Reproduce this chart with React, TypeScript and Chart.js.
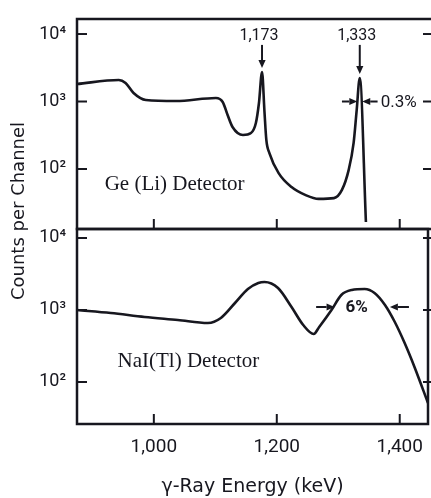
import React, { useEffect, useRef } from 'react';
import { Chart, registerables } from 'chart.js';

Chart.register(...registerables);

// ---------- data ----------
const geEnergy = [875, 943, 954, 967, 987, 1036, 1101, 1112, 1120, 1128, 1145, 1158, 1166, 1171, 1176, 1180, 1183, 1188, 1203, 1224, 1247, 1268, 1293, 1306, 1317, 1325, 1330, 1335, 1345];
const geCounts = [1815, 2085, 1880, 1336, 1053, 1016, 1127, 984, 631, 419, 319, 341, 480, 950, 2735, 700, 270, 172, 87, 54, 41, 36, 37, 49, 97, 243, 748, 2230, 16.4];

const naiEnergy = [875, 930, 985, 1039, 1088, 1109, 1132, 1153, 1170, 1180, 1202, 1224, 1243, 1260, 1269, 1289, 1305, 1322, 1343, 1359, 1376, 1392, 1408, 1424, 1446];
const naiCounts = [1000, 909, 800, 726, 659, 774, 1251, 1958, 2371, 2448, 2022, 1101, 619, 464, 581, 1000, 1616, 1896, 1958, 1722, 1173, 681, 348, 162, 51];

const xTicks = [1000, 1200, 1400];
const xTickLabels = ['1,000', '1,200', '1,400'];
const yTicks = [100, 1000, 10000];
const yTickLabels = ['10\u00B2', '10\u00B3', '10\u2074'];

const peakEnergies = [1176, 1335];
const peakLabels = ['1,173', '1,333'];

const X_MIN = 875;
const X_MAX = 1446;
const TOP_MIN = 12.9;
const TOP_MAX = 16700;
const BOT_MIN = 26.1;
const BOT_MAX = 13335;

// annotation anchors (data units)
const PEAK_ARROW_TAIL = 6900;
const PEAK_LABEL_LEVEL = 9300;
const geFwhmLevel = 1000;
const geFwhmLeft = [1306, 1331];
const geFwhmRight = [1364, 1339];
const geFwhmText = '0.3%';
const geFwhmTextE = 1369;
const naiFwhmLevel = 1100;
const naiFwhmLeft = [1264, 1294];
const naiFwhmRight = [1415, 1384];
const naiFwhmText = '6%';
const naiFwhmTextE = 1330;
const geLabel = 'Ge (Li) Detector';
const geLabelAt = [920, 58];
const naiLabel = 'NaI(Tl) Detector';
const naiLabelAt = [941, 190];

const INK = '#17171f';
const SANS = 'Roboto, "DejaVu Sans", sans-serif';
const TITLE_SANS = '"DejaVu Sans", Roboto, sans-serif';
const SERIF = '"Liberation Serif", "DejaVu Serif", serif';
const W = 431;
const H = 498;

function line(ctx: CanvasRenderingContext2D, x1: number, y1: number, x2: number, y2: number) {
  ctx.beginPath();
  ctx.moveTo(x1, y1);
  ctx.lineTo(x2, y2);
  ctx.stroke();
}

function arrow(ctx: CanvasRenderingContext2D, x1: number, y1: number, x2: number, y2: number) {
  const ang = Math.atan2(y2 - y1, x2 - x1);
  const hl = 8;
  const hw = 3.6;
  const bx = x2 - hl * Math.cos(ang);
  const by = y2 - hl * Math.sin(ang);
  ctx.lineWidth = 2;
  line(ctx, x1, y1, bx, by);
  ctx.beginPath();
  ctx.moveTo(x2, y2);
  ctx.lineTo(bx + hw * Math.sin(ang), by - hw * Math.cos(ang));
  ctx.lineTo(bx - hw * Math.sin(ang), by + hw * Math.cos(ang));
  ctx.closePath();
  ctx.fill();
}

function makeY(min: number, max: number) {
  return {
    type: 'logarithmic' as const,
    position: 'left' as const,
    min,
    max,
    afterFit: (s: any) => {
      s.width = 77;
    },
    afterBuildTicks: (s: any) => {
      s.ticks = yTicks.map((v) => ({ value: v }));
    },
    grid: { display: false },
    border: { display: false },
    ticks: {
      padding: 3,
      color: INK,
      autoSkip: false,
      font: { family: SANS, size: 18 },
      callback: (v: any) => {
        const i = yTicks.indexOf(Number(v));
        return i >= 0 ? yTickLabels[i] : '';
      },
    },
  };
}

function drawTicks(chart: any, ctx: CanvasRenderingContext2D) {
  const a = chart.chartArea;
  const { x, y } = chart.scales;
  ctx.lineWidth = 2;
  yTicks.forEach((v) => {
    const py = y.getPixelForValue(v);
    line(ctx, a.left, py, a.left + 10, py);
    line(ctx, a.right - 5, py, a.right + 3, py);
  });
  xTicks.forEach((v) => {
    const px = x.getPixelForValue(v);
    line(ctx, px, a.bottom, px, a.bottom - 10);
  });
}

const topDecor = {
  id: 'topDecor',
  afterDatasetsDraw(chart: any) {
    const ctx: CanvasRenderingContext2D = chart.ctx;
    const a = chart.chartArea;
    const { x, y } = chart.scales;
    ctx.save();
    ctx.strokeStyle = INK;
    ctx.fillStyle = INK;
    ctx.lineWidth = 2.5;
    ctx.beginPath();
    ctx.moveTo(W, a.top);
    ctx.lineTo(a.left, a.top);
    ctx.lineTo(a.left, a.bottom);
    ctx.lineTo(W, a.bottom);
    ctx.stroke();
    drawTicks(chart, ctx);

    // peak arrows and labels
    ctx.font = `16px ${SANS}`;
    ctx.textAlign = 'center';
    ctx.textBaseline = 'middle';
    peakEnergies.forEach((e, i) => {
      const idx = geEnergy.indexOf(e);
      const px = x.getPixelForValue(e);
      const peakY = y.getPixelForValue(geCounts[idx]);
      const tail = y.getPixelForValue(PEAK_ARROW_TAIL);
      arrow(ctx, px, tail, px, peakY - 4);
      ctx.fillText(peakLabels[i], px - 3, y.getPixelForValue(PEAK_LABEL_LEVEL));
    });

    // FWHM arrows
    const fy = y.getPixelForValue(geFwhmLevel);
    arrow(ctx, x.getPixelForValue(geFwhmLeft[0]), fy, x.getPixelForValue(geFwhmLeft[1]), fy);
    arrow(ctx, x.getPixelForValue(geFwhmRight[0]), fy, x.getPixelForValue(geFwhmRight[1]), fy);
    ctx.font = `17px ${SANS}`;
    ctx.textAlign = 'left';
    ctx.fillText(geFwhmText, x.getPixelForValue(geFwhmTextE), fy + 1);

    // detector label
    ctx.font = `21px ${SERIF}`;
    ctx.textAlign = 'left';
    ctx.fillText(geLabel, x.getPixelForValue(geLabelAt[0]), y.getPixelForValue(geLabelAt[1]));

    // y axis title (spans both panels)
    ctx.font = `18px ${TITLE_SANS}`;
    ctx.textAlign = 'center';
    ctx.translate(19, 211);
    ctx.rotate(-Math.PI / 2);
    ctx.fillText('Counts per Channel', 0, 0);
    ctx.restore();
  },
};

const botDecor = {
  id: 'botDecor',
  afterDatasetsDraw(chart: any) {
    const ctx: CanvasRenderingContext2D = chart.ctx;
    const a = chart.chartArea;
    const { x, y } = chart.scales;
    ctx.save();
    ctx.strokeStyle = INK;
    ctx.fillStyle = INK;
    ctx.lineWidth = 2.5;
    ctx.strokeRect(a.left, a.top, a.right - a.left, a.bottom - a.top);
    drawTicks(chart, ctx);

    const fy = y.getPixelForValue(naiFwhmLevel);
    arrow(ctx, x.getPixelForValue(naiFwhmLeft[0]), fy, x.getPixelForValue(naiFwhmLeft[1]), fy);
    arrow(ctx, x.getPixelForValue(naiFwhmRight[0]), fy, x.getPixelForValue(naiFwhmRight[1]), fy);
    ctx.font = `bold 17px ${SANS}`;
    ctx.textAlign = 'center';
    ctx.textBaseline = 'middle';
    ctx.fillText(naiFwhmText, x.getPixelForValue(naiFwhmTextE), fy + 1);

    ctx.font = `21px ${SERIF}`;
    ctx.textAlign = 'left';
    ctx.fillText(naiLabel, x.getPixelForValue(naiLabelAt[0]), y.getPixelForValue(naiLabelAt[1]));
    ctx.restore();
  },
};

const lineDataset = (xs: number[], ys: number[]) => ({
  data: xs.map((e, i) => ({ x: e, y: ys[i] })),
  borderColor: INK,
  borderWidth: 2.6,
  pointRadius: 0,
  fill: false,
  cubicInterpolationMode: 'monotone' as const,
});

export default function App() {
  const topRef = useRef<HTMLCanvasElement>(null);
  const botRef = useRef<HTMLCanvasElement>(null);

  useEffect(() => {
    const common = {
      animation: false as const,
      responsive: false,
      maintainAspectRatio: false,
      plugins: { legend: { display: false }, tooltip: { enabled: false } },
    };
    const top = new Chart(topRef.current!, {
      type: 'line',
      data: { datasets: [lineDataset(geEnergy, geCounts)] },
      options: {
        ...common,
        layout: { padding: { top: 19, right: 3, bottom: 269, left: 0 } },
        scales: {
          x: { type: 'linear', min: X_MIN, max: X_MAX, display: false },
          y: makeY(TOP_MIN, TOP_MAX),
        },
      } as any,
      plugins: [topDecor],
    });
    const bot = new Chart(botRef.current!, {
      type: 'line',
      data: { datasets: [lineDataset(naiEnergy, naiCounts)] },
      options: {
        ...common,
        layout: { padding: { top: 229, right: 3, bottom: 0, left: 0 } },
        scales: {
          x: {
            type: 'linear',
            min: X_MIN,
            max: X_MAX,
            afterFit: (s: any) => {
              s.height = 74;
            },
            afterBuildTicks: (s: any) => {
              s.ticks = xTicks.map((v) => ({ value: v }));
            },
            grid: { display: false },
            border: { display: false },
            ticks: {
              padding: 4,
              color: INK,
              autoSkip: false,
              maxRotation: 0,
              font: { family: SANS, size: 19 },
              callback: (v: any) => {
                const i = xTicks.indexOf(Number(v));
                return i >= 0 ? xTickLabels[i] : '';
              },
            },
            title: {
              display: true,
              text: '\u03B3-Ray Energy (keV)',
              color: INK,
              font: { family: TITLE_SANS, size: 19 },
              padding: { top: 0, bottom: 0 },
            },
          },
          y: makeY(BOT_MIN, BOT_MAX),
        },
      } as any,
      plugins: [botDecor],
    });
    return () => {
      top.destroy();
      bot.destroy();
    };
  }, []);

  const cv: React.CSSProperties = { position: 'absolute', left: 0, top: 0, width: W, height: H };
  return (
    <div style={{ position: 'fixed', left: 0, top: 0, width: W, height: H, background: '#fff' }}>
      <canvas ref={topRef} width={W} height={H} style={cv} />
      <canvas ref={botRef} width={W} height={H} style={cv} />
    </div>
  );
}
